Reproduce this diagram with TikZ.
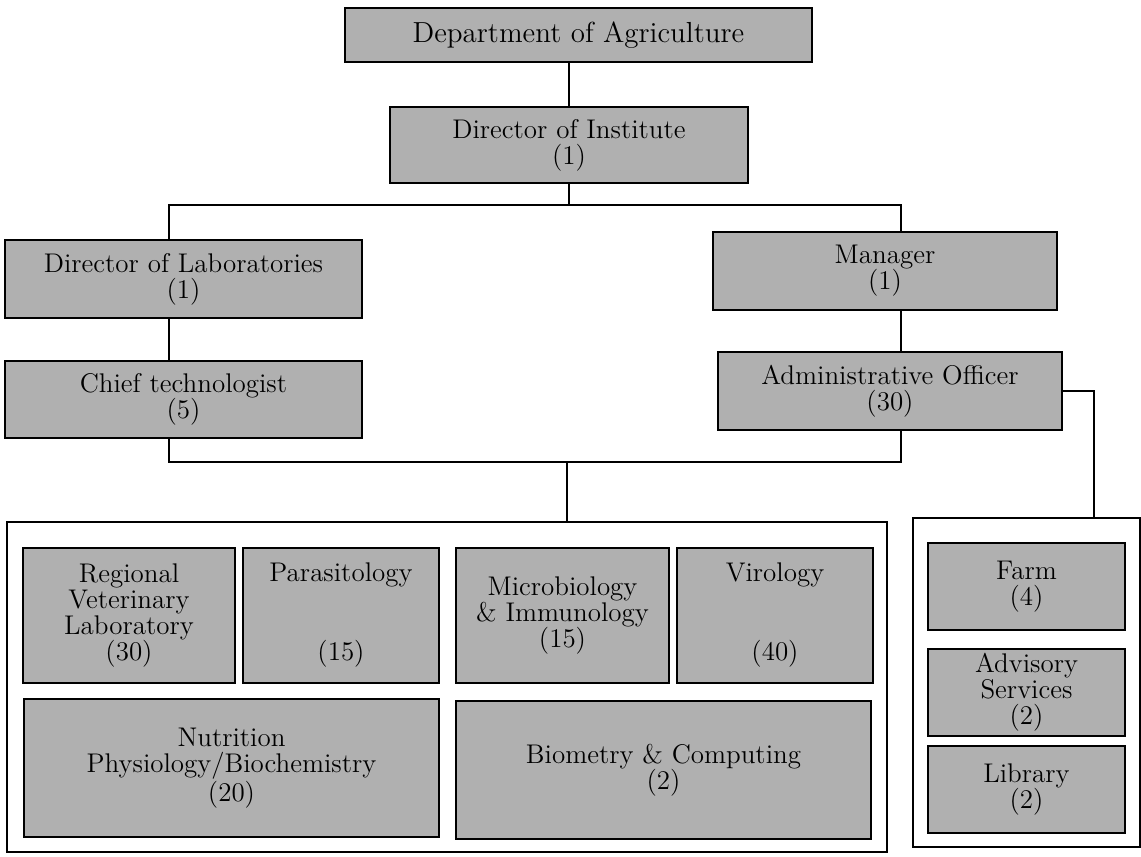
\documentclass[tikz,border=0pt]{standalone}

\tikzset{
  unit/.style={draw, line width=0.9pt, fill=black!31, align=center, inner sep=0pt,
               font=\fontsize{13.5}{13}\selectfont},
  group/.style={draw, line width=0.9pt, inner sep=0pt},
  link/.style={line width=0.6pt}
}

\begin{document}
\begin{tikzpicture}[x=0.5pt, y=-0.5pt]
\useasboundingbox (0,0) rectangle (1141,857);

\node[unit, minimum width=233.5pt, minimum height=27pt, font=\fontsize{14.5}{14}\selectfont] (dept) at (578.5,35) {Department of Agriculture};
\node[unit, minimum width=179pt, minimum height=38pt] (dir) at (569,145) {Director of Institute\\(1)};
\node[unit, minimum width=178.5pt, minimum height=39pt] (dirlab) at (183.5,279) {Director of Laboratories\\(1)};
\node[unit, minimum width=178.5pt, minimum height=38.5pt] (chief) at (183.5,399.5) {Chief technologist\\(5)};
\node[unit, minimum width=172pt, minimum height=39pt] (manager) at (885,271) {Manager\\(1)};
\node[unit, minimum width=172pt, minimum height=39pt] (admin) at (890,391) {Administrative Officer\\(30)};

\node[group, minimum width=440pt, minimum height=165pt] (labs) at (447,687) {};
\node[group, minimum width=113.5pt, minimum height=164.5pt] (support) at (1026.5,682.5) {};

\node[unit, minimum width=106pt, minimum height=67.5pt] (regional) at (129,615.5) {Regional\\Veterinary\\Laboratory\\(30)};
\node[unit, minimum width=98pt, minimum height=67.5pt] (parasit) at (341,615.5) {Parasitology\\[26.5pt](15)};
\node[unit, minimum width=106.5pt, minimum height=67.5pt] (micro) at (562.5,615.5) {Microbiology\\\& Immunology\\(15)};
\node[unit, minimum width=98pt, minimum height=67.5pt] (viro) at (775,615.5) {Virology\\[26.5pt](40)};
\node[unit, minimum width=207.5pt, minimum height=69pt] (nutri) at (231.5,768) {Nutrition\\Physiology/Biochemistry\\(20)};
\node[unit, minimum width=207.5pt, minimum height=69pt] (biom) at (663.5,770) {Biometry \& Computing\\(2)};

\node[unit, minimum width=98.5pt, minimum height=43.5pt] (farm) at (1026.5,586.5) {Farm\\(4)};
\node[unit, minimum width=98.5pt, minimum height=43.5pt] (advis) at (1026.5,692.5) {Advisory\\Services\\(2)};
\node[unit, minimum width=98.5pt, minimum height=43.5pt] (library) at (1026.5,789.5) {Library\\(2)};

\coordinate (busL) at (169,205);
\coordinate (busR) at (901,205);
\coordinate (lowL) at (169,462);
\coordinate (lowM) at (567,462);
\coordinate (lowR) at (901,462);
\coordinate (sideR) at (1094,391);

\draw[link] (dir.north) -- (dir.north |- dept.south);
\draw[link] (dir.south) -- (dir.south |- busL);
\draw[link]
     (dirlab.north -| busL)
  -- (busL)
  -- (busR)
  -- (manager.north -| busR);
\draw[link] (manager.south -| busR) -- (admin.north -| busR);
\draw[link] (dirlab.south -| lowL) -- (chief.north -| lowL);
\draw[link]
     (chief.south -| lowL)
  -- (lowL)
  -- (lowR)
  -- (admin.south -| lowR);
\draw[link] (lowM) -- (lowM |- labs.north);
\draw[link] (admin.east) -- (sideR) -- (support.north -| sideR);
\end{tikzpicture}
\end{document}
